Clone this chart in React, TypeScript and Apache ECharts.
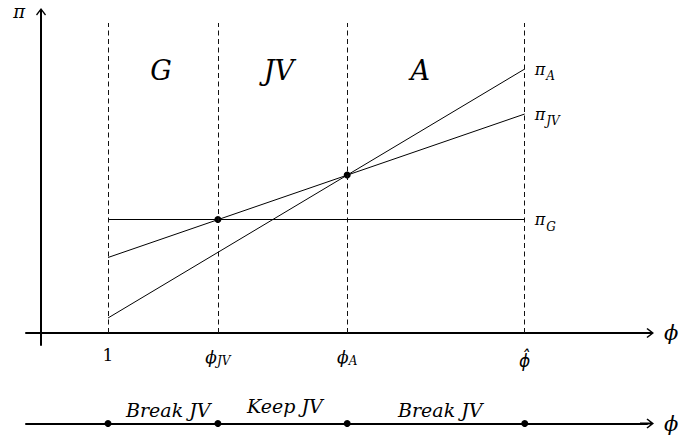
import React, { useEffect, useRef } from "react";
import * as echarts from "echarts";

// ---- data ----
const X_MIN = -0.224;
const X_MAX = 9.045;
const Y_MIN = -0.24;
const Y_MAX = 6.36;

const tickValues = [1, 2.64, 4.57, 7.22];
const tickMain = ["1", "ϕ", "ϕ", "ϕ\u0302"];
const tickSub = ["", "JV", "A", ""];
const tickHat = [false, false, false, true];

const lineX = [1, 7.22];
const piA = [0.3, 5.28];
const piJV = [1.51, 4.38];
const piG = [2.27, 2.27];
const lineSubs = ["A", "JV", "G"];

const crossings = [
  [2.64, 2.27],
  [4.57, 3.16],
];
const boundaryTop = 6.2;

const regionLabels = ["G", "JV", "A"];
const regionX = [1.79, 3.55, 5.66];
const regionY = 5.26;

const decisionLabels = ["Break JV", "Keep JV", "Break JV"];
const decisionX = [1.9, 3.64, 5.96];
const decisionY = [0.7, 0.9, 0.7];

const axisNameX = "ϕ";
const axisNameY = "π";

const FONT = "'DejaVu Serif', 'Liberation Serif', serif";
const HAT_FONT = "'DejaVu Sans', 'DejaVu Serif', sans-serif";
const ARROW =
  "path://M5,0 L10,6.5 L9,7.5 L6,3.6 L6,14 L4,14 L4,3.6 L1,7.5 L0,6.5 Z";

export default function App() {
  const ref = useRef<HTMLDivElement>(null);
  useEffect(() => {
    if (!ref.current) return;
    const chart = echarts.init(ref.current, undefined, { renderer: "svg" });

    const tickRich = {
      m: { fontFamily: FONT, fontStyle: "italic", fontSize: 17, color: "#000" },
      s: {
        fontFamily: FONT,
        fontStyle: "italic",
        fontSize: 12,
        color: "#000",
        padding: [9, 0, 0, 0],
      },
      n: { fontFamily: FONT, fontSize: 17, color: "#000" },
      h: {
        fontFamily: HAT_FONT,
        fontStyle: "oblique",
        fontSize: 17,
        color: "#000",
        padding: [6, 0, 0, 0],
      },
    };
    const piRich = {
      p: { fontFamily: FONT, fontStyle: "italic", fontSize: 16, color: "#000" },
      s: {
        fontFamily: FONT,
        fontStyle: "italic",
        fontSize: 12,
        color: "#000",
        padding: [14, 0, 0, 1],
      },
    };

    const mkLine = (vals: number[], sub: string) => ({
      type: "line",
      xAxisIndex: 0,
      yAxisIndex: 0,
      data: lineX.map((x, i) => [x, vals[i]]),
      symbol: "none",
      silent: true,
      lineStyle: { color: "#000", width: 1 },
      endLabel: {
        show: true,
        distance: 10,
        formatter: `{p|π}{s|${sub}}`,
        rich: piRich,
      },
      z: 3,
    });

    const axisLineStyle = { color: "#000", width: 2 };
    const axisNameStyle = {
      fontFamily: FONT,
      fontStyle: "italic",
      fontSize: 21,
      color: "#000",
    };
    const solid = { color: "#000", opacity: 1 };

    chart.setOption({
      animation: false,
      grid: [
        { left: 26, top: 15, width: 621, height: 330 },
        { left: 26, top: 404, width: 621, height: 40 },
      ],
      xAxis: [
        {
          gridIndex: 0,
          type: "value",
          min: X_MIN,
          max: X_MAX,
          axisLine: {
            onZero: true,
            lineStyle: axisLineStyle,
            symbol: ["none", ARROW],
            symbolSize: [10, 14],
          },
          axisTick: { show: false },
          splitLine: { show: false },
          axisLabel: {
            customValues: tickValues,
            margin: 1,
            rich: tickRich,
            formatter: (v: number) => {
              const i = tickValues.findIndex((t) => Math.abs(t - v) < 1e-6);
              if (i < 0) return "";
              if (tickHat[i]) return `{h|${tickMain[i]}}`;
              if (tickSub[i]) return `{m|${tickMain[i]}}{s|${tickSub[i]}}`;
              return `{n|${tickMain[i]}}`;
            },
          },
          name: axisNameX,
          nameLocation: "end",
          nameGap: 17,
          nameTextStyle: axisNameStyle,
        },
        {
          gridIndex: 1,
          type: "value",
          min: X_MIN,
          max: X_MAX,
          axisLine: {
            onZero: true,
            lineStyle: axisLineStyle,
            symbol: ["none", ARROW],
            symbolSize: [10, 14],
          },
          axisTick: { show: false },
          splitLine: { show: false },
          axisLabel: { show: false },
          name: axisNameX,
          nameLocation: "end",
          nameGap: 17,
          nameTextStyle: axisNameStyle,
        },
      ],
      yAxis: [
        {
          gridIndex: 0,
          type: "value",
          min: Y_MIN,
          max: Y_MAX,
          axisLine: {
            show: true,
            onZero: true,
            lineStyle: axisLineStyle,
            symbol: ["none", ARROW],
            symbolSize: [10, 14],
          },
          axisTick: { show: false },
          splitLine: { show: false },
          axisLabel: { show: false },
          name: axisNameY,
          nameLocation: "end",
          nameGap: 4,
          nameTextStyle: {
            fontFamily: FONT,
            fontStyle: "italic",
            fontSize: 18,
            color: "#000",
            align: "right",
            verticalAlign: "middle",
            padding: [0, 16, 0, 0],
          },
        },
        {
          gridIndex: 1,
          type: "value",
          min: -1,
          max: 1,
          show: false,
        },
      ],
      series: [
        mkLine(piA, lineSubs[0]),
        mkLine(piJV, lineSubs[1]),
        mkLine(piG, lineSubs[2]),
        {
          type: "line",
          xAxisIndex: 0,
          yAxisIndex: 0,
          data: [[tickValues[0], 0]],
          symbol: "none",
          silent: true,
          markLine: {
            silent: true,
            symbol: ["none", "none"],
            label: { show: false },
            lineStyle: { type: [5, 3.5], color: "#111", width: 1 },
            data: tickValues.map((x) => [
              { coord: [x, 0] },
              { coord: [x, boundaryTop] },
            ]),
          },
          z: 1,
        },
        {
          type: "scatter",
          xAxisIndex: 0,
          yAxisIndex: 0,
          data: crossings,
          symbolSize: 7,
          silent: true,
          itemStyle: solid,
          z: 4,
        },
        {
          type: "scatter",
          xAxisIndex: 0,
          yAxisIndex: 0,
          data: regionX.map((x, i) => [x, regionY, regionLabels[i]]),
          symbolSize: 0,
          silent: true,
          itemStyle: solid,
          label: {
            show: true,
            position: "inside",
            formatter: (p: any) => p.data[2],
            fontFamily: FONT,
            fontStyle: "italic",
            fontSize: 27,
            color: "#000",
            textBorderWidth: 0,
          },
        },
        {
          type: "scatter",
          xAxisIndex: 1,
          yAxisIndex: 1,
          data: tickValues.map((x) => [x, 0]),
          symbolSize: 7,
          silent: true,
          itemStyle: solid,
          z: 4,
        },
        {
          type: "scatter",
          xAxisIndex: 1,
          yAxisIndex: 1,
          data: decisionX.map((x, i) => [x, decisionY[i], decisionLabels[i]]),
          symbolSize: 0,
          silent: true,
          itemStyle: solid,
          label: {
            show: true,
            position: "inside",
            formatter: (p: any) => p.data[2],
            fontFamily: FONT,
            fontStyle: "italic",
            fontSize: 19,
            color: "#000",
            textBorderWidth: 0,
          },
        },
      ],
    });
    return () => chart.dispose();
  }, []);
  return (
    <div
      ref={ref}
      style={{
        position: "fixed",
        left: 0,
        top: 0,
        width: 685,
        height: 443,
        background: "#fff",
      }}
    />
  );
}
